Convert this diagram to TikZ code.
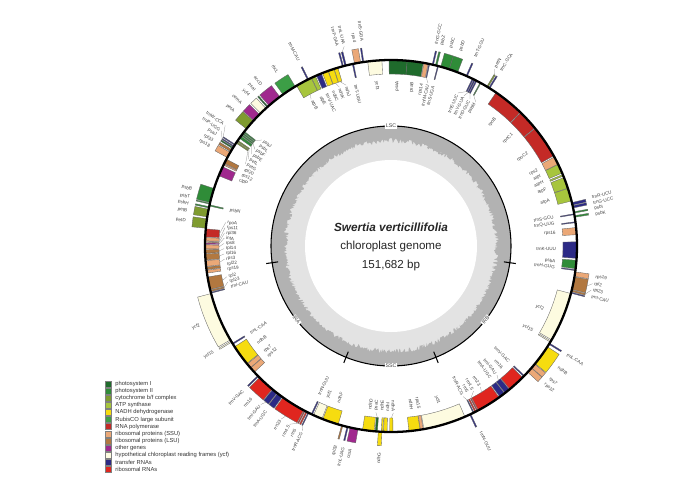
\documentclass[tikz,border=0pt]{standalone}
\usepackage{fontspec}
\setmainfont{Liberation Sans}
\usetikzlibrary{positioning}
\definecolor{psI}{HTML}{1F6B2C}
\definecolor{psII}{HTML}{2F8C38}
\definecolor{cytbf}{HTML}{7F9B2F}
\definecolor{atp}{HTML}{A7C53D}
\definecolor{ndh}{HTML}{F6DC10}
\definecolor{rubisco}{HTML}{3C9E46}
\definecolor{rpol}{HTML}{C42A26}
\definecolor{rpS}{HTML}{EBA877}
\definecolor{rpL}{HTML}{B27840}
\definecolor{other}{HTML}{A0288E}
\definecolor{ycf}{HTML}{FDFBE0}
\definecolor{trna}{HTML}{2C2A86}
\definecolor{rrna}{HTML}{E0261F}
\begin{document}
\begin{tikzpicture}
	\tikzstyle{gene}      = [draw=black!60, line width=0.2pt]
	\tikzstyle{leader}    = [draw=black!45, line width=0.15pt]
	\tikzstyle{glabel}    = [font=\fontsize{2.6}{3}\selectfont, inner sep=0.3pt, text=black!75]
	\tikzstyle{regionlab} = [font=\fontsize{3}{3.5}\selectfont, fill=white, inner sep=0.4pt, text=black!75]
	\tikzstyle{centertext}= [font=\fontsize{6.6}{8}\selectfont, text=black!85]
	\tikzstyle{keybox}    = [minimum size=0.12cm, inner sep=0pt, draw=black!50, line width=0.2pt]
	\tikzstyle{keytext}   = [font=\fontsize{3.3}{4}\selectfont, inner sep=0.5pt, text=black!80]
	\def\R{3.72}\def\h{0.28}

	\useasboundingbox (-7.82,-4.68) rectangle (5.78,4.92);

	% GC content ring
	\fill[black!11] (0,0) circle (2.4);
	\pgfmathsetseed{7}
	\fill[black!30, even odd rule] (0,0) circle (2.4) plot[domain=0:359.5, samples=720] (\x:{2.06+0.1*rnd}) -- cycle;
	\fill[white] (0,0) circle (1.72);
	\draw[line width=0.6pt] (0,0) circle (2.4);
	\foreach \b in {98,158,202,262}
		\draw[line width=0.6pt] ({90-\b}:2.28) -- ({90-\b}:2.52);

	\node[regionlab] (lsc) at (90:2.4) {LSC};
	\node[regionlab, rotate=52] (irb) at (-38:2.4) {IRB};
	\node[regionlab] (ssc) at (-90:2.4) {SSC};
	\node[regionlab, rotate=-52] (ira) at (-142:2.4) {IRA};

	\node[centertext, font=\fontsize{6.7}{8}\selectfont\bfseries\itshape] (species) at (0,0.38) {Swertia verticillifolia};
	\node[centertext] (kind) at (0,0) {chloroplast genome};
	\node[centertext] (size) at (0,-0.38) {151,682 bp};

	% genes: start/end bearing, side (1 out, -1 in), colour, name, label bearing, inverted repeat
	\foreach \s/\e/\sd/\col/\lab/\lb/\ir [count=\i] in {
		-0.6/5.0/-1/psI/psaA/2.2/0, 5.0/10.0/-1/psI/psaB/7.5/0, 10.2/11.5/-1/rpS/rps14/10.8/0,
		11.7/12.0/-1/trna/trnfM-CAU/12.8/0, 12.8/13.2/1/trna/trnG-GCC/12.6/0, 13.8/14.3/1/psII/psbZ/14.2/0,
		14.5/14.8/-1/trna/trnS-UGA/14.8/0, 15.5/18.2/1/psII/psbC/16.8/0, 18.2/21.0/1/psII/psbD/19.6/0,
		23.8/24.2/1/trna/trnT-GGU/24.0/0, 25.9/26.3/-1/trna/trnE-UUC/23.6/0, 26.5/26.9/-1/trna/trnY-GUA/25.9/0,
		27.1/27.5/-1/trna/trnD-GUC/28.2/0, 28.6/28.9/-1/psII/psbM/30.5/0, 31.0/31.4/1/cytbf/petN/30.4/0,
		31.7/32.1/1/trna/trnC-GCA/32.1/0, 34.4/44.0/-1/rpol/rpoB/39.2/0, 44.2/50.6/-1/rpol/rpoC1/47.4/0,
		50.8/61.0/-1/rpol/rpoC2/55.9/0, 61.4/63.9/-1/rpS/rps2/62.6/0, 64.0/66.9/-1/atp/atpI/65.0/0,
		67.4/67.9/-1/atp/atpH/67.4/0, 68.4/71.9/-1/atp/atpF/70.1/0, 72.0/76.0/-1/atp/atpA/74.0/0,
		76.5/77.3/1/trna/trnR-UCU/76.4/0, 77.5/78.2/1/trna/trnG-UCC/78.0/0, 79.4/79.8/1/psII/psbI/79.6/0,
		80.6/81.1/1/psII/psbK/81.2/0, 80.0/80.3/-1/trna/trnS-GCU/79.9/0, 82.5/82.8/-1/trna/trnQ-UUG/82.2/0,
		84.3/86.5/-1/rpS/rps16/85.4/0, 88.7/93.8/-1/trna/trnK-UUU/91.2/0, 94.4/97.0/-1/psII/psbA/95.4/0,
		97.3/97.6/-1/trna/trnH-GUG/97.4/0, 98.0/99.4/1/rpS/rps19/98.6/0,
		-7.2/-2.8/-1/ycf/ycf3/-5.0/0, -8.8/-8.4/1/trna/trnS-GGA/-8.0/0, -11.3/-9.4/1/rpS/rps4/-10.2/0,
		-12.0/-11.6/-1/trna/trnT-UGU/-12.4/0, -14.4/-13.9/1/trna/trnL-UAA/-13.2/0, -15.2/-14.8/1/trna/trnF-GAA/-15.0/0,
		-17.8/-16.6/-1/ndh/ndhJ/-15.6/0, -19.7/-17.9/-1/ndh/ndhK/-18.0/0, -21.6/-19.8/-1/ndh/ndhC/-20.4/0,
		-23.6/-22.0/-1/trna/trnV-UAC/-22.8/0, -25.3/-24.0/-1/atp/atpE/-25.2/0, -26.7/-26.3/1/trna/trnM-CAU/-26.5/0,
		-30.5/-25.4/-1/atp/atpB/-28.6/0, -35.5/-31.0/1/rubisco/rbcL/-33.2/0, -41.0/-36.7/1/other/accD/-38.8/0,
		-41.8/-41.4/1/psI/psaI/-41.2/0, -44.5/-42.3/1/ycf/ycf4/-43.4/0, -47.6/-45.0/1/other/cemA/-46.3/0,
		-51.0/-47.8/1/cytbf/petA/-49.4/0, -52.4/-52.0/-1/psII/psbJ/-50.6/0, -53.0/-52.6/-1/psII/psbL/-52.6/0,
		-53.6/-53.2/-1/psII/psbF/-54.6/0, -54.6/-53.8/-1/psII/psbE/-56.6/0, -55.8/-55.4/-1/cytbf/petL/-58.6/0,
		-56.4/-56.0/-1/cytbf/petG/-60.6/0, -57.2/-56.9/1/trna/trnW-CCA/-54.0/0, -57.8/-57.5/1/trna/trnP-UGG/-55.8/0,
		-58.4/-58.0/1/psI/psaJ/-57.6/0, -59.5/-58.8/1/rpL/rpl33/-59.4/0, -61.6/-59.8/1/rpS/rps18/-61.2/0,
		-63.6/-62.2/-1/rpL/rpl20/-62.6/0, -64.2/-63.8/-1/rpS/rps12/-64.6/0, -67.8/-64.8/-1/other/clpP/-66.6/0,
		-76.5/-72.0/1/psII/psbB/-74.2/0, -77.0/-76.7/1/psII/psbT/-76.4/0, -77.6/-77.2/-1/psII/psbN/-77.4/0,
		-78.2/-77.8/1/psII/psbH/-78.2/0, -81.0/-78.6/1/cytbf/petB/-80.2/0, -84.5/-81.6/1/cytbf/petD/-83.0/0,
		-87.2/-84.7/-1/rpol/rpoA/-81.9/0, -88.4/-87.4/-1/rpS/rps11/-83.7/0, -88.9/-88.6/-1/rpL/rpl36/-85.5/0,
		-89.5/-89.1/-1/other/infA/-87.3/0, -90.9/-89.7/-1/rpS/rps8/-89.1/0, -92.2/-91.1/-1/rpL/rpl14/-90.9/0,
		-94.3/-92.4/-1/rpL/rpl16/-92.7/0, -96.3/-94.5/-1/rpS/rps3/-94.5/0, -97.3/-96.5/-1/rpL/rpl22/-96.3/0,
		-98.4/-97.5/-1/rpS/rps19/-98.1/0,
		99.6/103.5/1/rpL/rpl2/100.6/1, 103.7/104.2/1/rpL/rpl23/102.4/1, 104.4/104.7/1/trna/trnI-CAU/104.2/1,
		104.8/120.3/-1/ycf/ycf2/112.5/1, 120.7/121.1/-1/ycf/ycf15/120.9/1, 121.5/121.9/1/trna/trnL-CAA/121.7/1,
		122.8/129.2/1/ndh/ndhB/126.0/1, 129.4/130.9/1/rpS/rps7/129.9/1, 131.0/132.7/1/rpS/rps12/131.9/1,
		134.2/134.6/-1/trna/trnV-GAC/134.4/1, 135.0/140.3/-1/rrna/rrn16/137.6/1, 140.5/142.2/-1/trna/trnI-GAU/140.6/1,
		142.4/144.2/-1/trna/trnA-UGC/142.9/1, 144.5/152.0/-1/rrna/rrn23/147.6/1, 152.2/152.5/-1/rrna/rrn4.5/150.4/1,
		152.8/153.2/-1/rrna/rrn5/152.4/1, 153.5/153.8/-1/trna/trnR-ACG/154.4/1, 154.6/155.0/1/trna/trnN-GUU/154.2/1,
		156.6/169.8/-1/ycf/ycf1/163.2/0, 170.0/170.9/-1/rpS/rps15/170.4/0, 171.0/174.5/-1/ndh/ndhH/172.8/0,
		179.4/180.4/-1/ndh/ndhA/179.2/0, 181.2/182.3/-1/ndh/ndhI/181.2/0, 182.8/183.9/1/ndh/ndhG/183.3/0,
		182.5/183.0/-1/ndh/ndhE/183.2/0, 184.2/184.9/-1/psI/psaC/185.2/0, 185.2/188.8/-1/ndh/ndhD/187.4/0,
		190.2/192.7/1/other/ccsA/191.4/0, 193.3/193.7/1/trna/trnL-UAG/193.4/0, 195.0/195.4/1/rpL/rpl32/195.4/0,
		196.5/201.5/-1/ndh/ndhF/198.6/0, 201.8/204.6/-1/ycf/ycf1/202.6/0}
	{
		\foreach \m in {0,...,\ir} {
			\pgfmathsetmacro\gs{ifthenelse(\m==0,\s,360-(\e))}
			\pgfmathsetmacro\gend{ifthenelse(\m==0,\e,360-(\s))}
			\pgfmathsetmacro\glb{ifthenelse(\m==0,\lb,360-(\lb))}
			\pgfmathtruncatemacro\gsd{(1-2*\m)*\sd}
			\pgfmathsetmacro\lbn{mod(\glb+720,360)}
			\pgfmathtruncatemacro\flip{ifthenelse(\lbn>180,1,0)}
			\pgfmathtruncatemacro\side{\gsd*(1-2*\flip)}
			\pgfmathtruncatemacro\lead{ifthenelse(abs(\glb-(\gs+\gend)/2)>0.6,1,0)}
			\pgfmathsetmacro\angs{90-\gs}
			\pgfmathsetmacro\ange{90-\gend}
			\pgfmathsetmacro\angm{90-(\gs+\gend)/2}
			\pgfmathsetmacro\angl{90-\lbn}
			\pgfmathsetmacro\rot{90-\lbn+180*\flip}
			\pgfmathsetmacro\rb{\R+\gsd*\h}
			\pgfmathsetmacro\rm{\R+\gsd*(\h+0.1)}
			\pgfmathsetmacro\rl{\R+\gsd*(\h+0.12)}
			\ifnum\side>0 \def\anc{west}\else\def\anc{east}\fi
			\draw[gene, fill=\col] (\angs:\R) arc[start angle=\angs, end angle=\ange, radius=\R]
				-- (\ange:\rb) arc[start angle=\ange, end angle=\angs, radius=\rb] -- cycle;
			\ifnum\lead>0 \draw[leader] (\angm:\rb) -- (\angl:\rm); \fi
			\node[glabel, anchor=\anc, rotate=\rot] (lab\i-\m) at (\angl:\rl) {\lab};
		}
	}

	\draw[line width=1.3pt] (0,0) circle (\R);

	% legend
	\foreach \col/\txt [count=\k] in {psI/photosystem I, psII/photosystem II, cytbf/{cytochrome b/f complex},
		atp/ATP synthase, ndh/NADH dehydrogenase, rubisco/RubisCO large subunit, rpol/RNA polymerase,
		rpS/ribosomal proteins (SSU), rpL/ribosomal proteins (LSU), other/other genes,
		ycf/hypothetical chloroplast reading frames (ycf), trna/transfer RNAs, rrna/ribosomal RNAs}
	{
		\node[keybox, fill=\col] (key\k) at (-5.66, {-2.76-0.142*(\k-1)}) {};
		\node[keytext, right=0.06cm of key\k] (leg\k) {\txt};
	}
\end{tikzpicture}
\end{document}
